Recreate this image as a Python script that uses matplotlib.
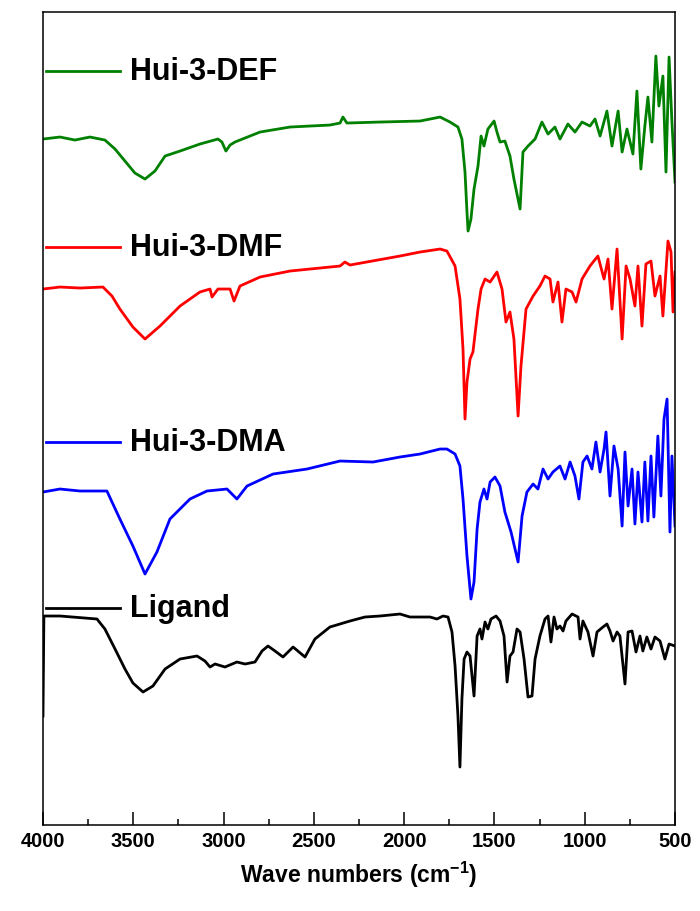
import matplotlib
matplotlib.use("Agg")
import matplotlib.pyplot as plt
from matplotlib.ticker import MultipleLocator

plt.rcParams['font.family'] = ['Liberation Sans', 'DejaVu Sans']
plt.rcParams['font.weight'] = 'bold'
plt.rcParams['mathtext.fontset'] = 'custom'
plt.rcParams['mathtext.rm'] = 'Liberation Sans:bold'
plt.rcParams['mathtext.bf'] = 'Liberation Sans:bold'
plt.rcParams['mathtext.default'] = 'bf'

# FTIR spectra, offset transmittance (a.u.)
labels = ['Hui-3-DEF', 'Hui-3-DMF', 'Hui-3-DMA', 'Ligand']
colors = ['#008000', '#ff0000', '#0000ff', '#000000']

def_wn = [4000, 3906, 3823, 3740, 3657, 3601, 3546, 3491, 3435, 3380, 3324, 3241,
          3131, 3031, 3009, 2987, 2964, 2937, 2798, 2632, 2411, 2355, 2339, 2317,
          2134, 1912, 1801, 1746, 1702, 1680, 1663, 1652, 1646, 1630, 1613, 1591,
          1574, 1558, 1536, 1502, 1486, 1469, 1442, 1414, 1392, 1358, 1342, 1314,
          1275, 1237, 1203, 1165, 1137, 1093, 1054, 1015, 971, 943, 915, 877, 849,
          815, 793, 766, 733, 711, 689, 667, 650, 628, 606, 589, 567, 550, 533,
          517, 500]
def_t = [686, 688, 685, 688, 685, 676, 664, 652, 646, 654, 669, 674,
         681, 686, 683, 674, 680, 683, 693, 698, 700, 702, 708, 702,
         703, 704, 708, 703, 698, 686, 653, 613, 594, 606, 636, 659,
         689, 679, 696, 704, 693, 683, 684, 669, 646, 616, 673, 679,
         686, 703, 691, 698, 686, 701, 693, 703, 699, 706, 689, 714, 679,
         714, 673, 696, 671, 734, 656, 699, 728, 683, 769, 719, 749, 653, 768,
         703, 643]

dmf_wn = [4000, 3906, 3795, 3668, 3618, 3574, 3502, 3435, 3352, 3241, 3131, 3075,
          3064, 3031, 2964, 2942, 2909, 2798, 2632, 2355, 2328, 2300, 2023, 1912,
          1801, 1763, 1718, 1691, 1674, 1663, 1652, 1635, 1619, 1591, 1574, 1552,
          1524, 1486, 1458, 1436, 1414, 1392, 1369, 1353, 1325, 1286, 1248, 1220,
          1192, 1176, 1148, 1126, 1104, 1070, 1048, 1015, 971, 927, 893, 871, 849,
          821, 793, 771, 749, 722, 705, 683, 661, 633, 611, 583, 567, 539, 522,
          511, 500]
dmf_t = [536, 538, 537, 538, 529, 516, 498, 486, 499, 519, 533, 536,
         528, 536, 536, 524, 539, 548, 554, 559, 563, 560, 569, 573,
         576, 574, 559, 526, 476, 406, 443, 466, 473, 516, 536, 546,
         543, 553, 536, 503, 513, 486, 409, 459, 516, 529, 539, 549,
         546, 523, 543, 503, 536, 533, 523, 546, 559, 569, 546, 566, 516,
         576, 486, 559, 546, 519, 559, 499, 561, 564, 529, 549, 509, 584, 573,
         513, 553]

dma_wn = [4000, 3906, 3795, 3646, 3574, 3502, 3435, 3369, 3297, 3186, 3092, 2981,
          2926, 2870, 2726, 2538, 2355, 2172, 2023, 1912, 1801, 1763, 1718, 1691,
          1674, 1652, 1630, 1613, 1596, 1580, 1558, 1541, 1524, 1497, 1469, 1442,
          1408, 1369, 1347, 1320, 1286, 1259, 1231, 1203, 1176, 1137, 1109, 1081,
          1054, 1032, 1010, 987, 960, 938, 915, 893, 882, 860, 838, 815, 793, 777,
          760, 738, 722, 705, 683, 667, 650, 633, 617, 595, 578, 561, 544, 528,
          517, 500]
dma_t = [333, 336, 334, 334, 306, 279, 251, 273, 306, 326, 334, 336,
         326, 339, 351, 356, 364, 363, 368, 371, 376, 376, 371, 359,
         326, 269, 226, 243, 296, 323, 336, 326, 343, 348, 339, 313,
         293, 263, 309, 333, 341, 336, 356, 346, 353, 359, 346, 363,
         349, 326, 363, 369, 356, 383, 353, 376, 393, 329, 379, 356, 299, 373,
         319, 356, 301, 353, 303, 363, 304, 369, 308, 389, 329, 406, 426, 293,
         369, 299]

lig_wn = [4000, 3995, 3906, 3701, 3657, 3601, 3546, 3502, 3446, 3391, 3324, 3241,
          3147, 3103, 3075, 3047, 2992, 2926, 2881, 2826, 2787, 2754, 2715, 2671,
          2615, 2549, 2494, 2411, 2300, 2217, 2134, 2023, 1968, 1857, 1818, 1785,
          1757, 1735, 1718, 1702, 1691, 1680, 1668, 1652, 1635, 1613, 1596, 1580,
          1569, 1552, 1536, 1519, 1491, 1469, 1447, 1430, 1414, 1397, 1375, 1358,
          1336, 1314, 1292, 1275, 1248, 1220, 1203, 1187, 1170, 1154, 1137, 1120,
          1104, 1070, 1037, 1026, 1010, 982, 954, 932, 899, 877, 860, 843, 821,
          805, 777, 760, 738, 716, 694, 678, 656, 633, 611, 583, 556, 533, 500]
lig_t = [109, 209, 209, 206, 196, 176, 156, 142, 133, 139, 156, 166,
         169, 164, 158, 161, 158, 163, 161, 163, 174, 179, 174, 168,
         178, 168, 186, 198, 204, 208, 209, 211, 208, 208, 206, 209,
         208, 193, 159, 109, 58, 126, 166, 173, 169, 129, 189, 196,
         186, 203, 196, 206, 209, 204, 189, 143, 169, 173, 196, 193,
         166, 128, 129, 166, 189, 206, 209, 183, 208, 196, 199, 194,
         204, 211, 208, 186, 204, 193, 169, 193, 198, 201, 194, 184, 193,
         189, 141, 193, 194, 173, 189, 174, 188, 176, 188, 184, 166, 181, 179]

series = [(def_wn, def_t), (dmf_wn, dmf_t), (dma_wn, dma_t), (lig_wn, lig_t)]
label_y = [0.927, 0.711, 0.471, 0.267]

fig = plt.figure(figsize=(7, 9.12), dpi=100)
ax = fig.add_axes([0.0614, 0.0943, 0.9029, 0.8914])

for (wn, t), c in zip(series, colors):
    ax.plot(wn, t, color=c, lw=2.0)

# inline legend entries next to each trace
for lab, c, y in zip(labels, colors, label_y):
    ax.plot([0.005, 0.122], [y, y], color=c, lw=2.0, transform=ax.transAxes)
    ax.text(0.138, y, lab, transform=ax.transAxes, fontsize=22,
            fontweight='bold', va='center', ha='left')

ax.set_xlim(4000, 500)
ax.set_ylim(0, 813)
ax.xaxis.set_major_locator(MultipleLocator(500))
ax.xaxis.set_minor_locator(MultipleLocator(250))
ax.tick_params(axis='x', which='major', direction='in', length=9.5, width=1.1,
               labelsize=14.5, pad=4)
ax.tick_params(axis='x', which='minor', direction='in', length=4.5, width=1.1)
ax.set_yticks([])
for sp in ax.spines.values():
    sp.set_linewidth(1.1)
for lbl in ax.get_xticklabels():
    lbl.set_fontweight('bold')

ax.set_xlabel('Wave numbers (cm$^{-1}$)', fontsize=16.5,
              fontweight='bold', labelpad=7)

fig.savefig('out.png', dpi=100)
